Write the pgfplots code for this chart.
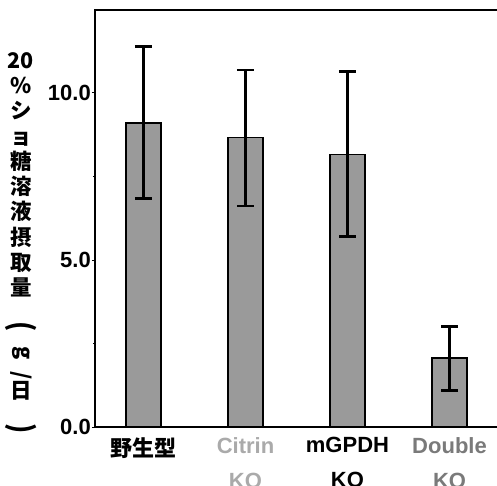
\documentclass[border=0pt]{standalone}
\usepackage{fontspec}
\setmainfont{Liberation Sans}
\newfontfamily\cjk{Noto Sans CJK JP}
\usepackage{pgfplots}
\pgfplotsset{compat=1.18}
\definecolor{barfill}{HTML}{9A9A9A}
\definecolor{citgray}{HTML}{AAAAAA}
\definecolor{dblgray}{HTML}{7A7A7A}
\pgfplotstableread{
x y ep em
0 9.09 2.30 2.26
1 8.67 2.02 2.05
2 8.16 2.48 2.46
3 2.06 0.94 0.97
}\datatab
\begin{document}
\begin{tikzpicture}
\begin{axis}[
  scale only axis, width=405pt, height=417pt,
  xmin=-0.475, xmax=3.495, ymin=0, ymax=12.48,
  ybar, bar width=35pt,
  axis line style={line width=1.8pt},
  ytick={0,5,10}, minor ytick={2.5,7.5},
  tick align=outside, major tick length=3pt, minor tick length=2pt,
  tick style={line width=0.8pt, black},
  ticklabel style={font=\bfseries\fontsize{22}{26}\selectfont},
  yticklabel style={inner sep=1pt, /pgf/number format/.cd, fixed, fixed zerofill, precision=1, assume math mode=true},
  ytick pos=left,
  xtick={0,1,2,3}, xtick style={draw=none},
  xticklabels={{\cjk\bfseries 野生型},{\textcolor{citgray}{Citrin}\\\textcolor{citgray}{KO}},{mGPDH\\KO},{\textcolor{dblgray}{Double}\\\textcolor{dblgray}{KO}}},
  xticklabel style={align=center, font=\bfseries\fontsize{22}{35}\selectfont, inner sep=2pt, yshift=-5pt},
]
\addplot[fill=barfill, draw=black, line width=1.6pt,
  error bars/.cd, y dir=both, y explicit,
  error bar style={line width=2.6pt, black},
  error mark options={rotate=90, mark size=8.5pt, line width=2.6pt, black}]
  table[x=x, y=y, y error plus=ep, y error minus=em] {\datatab};
\coordinate (bl) at ([xshift=-95pt,yshift=-58pt]rel axis cs:0,0);
\coordinate (tr) at ([xshift=402pt,yshift=10pt]rel axis cs:0,1);
\coordinate (ylab) at ([xshift=-74pt,yshift=184pt]rel axis cs:0,0);
\end{axis}
\node[font=\cjk\bfseries\fontsize{21.5}{25.3}\selectfont, align=center, inner sep=0pt] at (ylab)
  {20\\\%\\シ\\ョ\\糖\\溶\\液\\摂\\取\\量\\\rotatebox{-90}{\scalebox{1.2}[1.4]{(}}\\\rotatebox{-90}{g}\\\rotatebox{-90}{/}\\日\\\rotatebox{-90}{\scalebox{1.2}[1.4]{)}}};
\pgfresetboundingbox
\useasboundingbox (bl) rectangle (tr);
\end{tikzpicture}
\end{document}
